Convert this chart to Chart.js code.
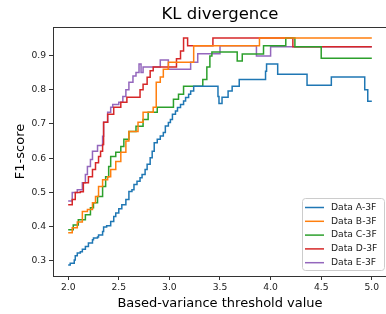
<!DOCTYPE html>
<html>
<head>
<meta charset="utf-8">
<script src="https://cdn.jsdelivr.net/npm/chart.js@4.4.1/dist/chart.umd.min.js"></script>
<style>
  html, body { margin: 0; padding: 0; background: #fff; overflow: hidden; }
  #wrap { width: 390px; height: 314px; }
</style>
</head>
<body>
<div id="wrap"><canvas id="chartCanvas" width="390" height="314"></canvas></div>
<script>
// chart data
const xTicks = [2.0, 2.5, 3.0, 3.5, 4.0, 4.5, 5.0];
const yTicks = [0.3, 0.4, 0.5, 0.6, 0.7, 0.8, 0.9];

const seriesNames = ['Data A-3F', 'Data B-3F', 'Data C-3F', 'Data D-3F', 'Data E-3F'];
const seriesColors = ['#1f77b4', '#ff7f0e', '#2ca02c', '#d62728', '#9467bd'];

const aX = [2.0, 2.02, 2.06, 2.07, 2.09, 2.12, 2.14, 2.17, 2.2, 2.24, 2.25, 2.29, 2.3, 2.34, 2.35, 2.38, 2.42, 2.45, 2.47, 2.5, 2.53, 2.57, 2.6, 2.63, 2.65, 2.68, 2.71, 2.73, 2.76, 2.78, 2.81, 2.83,
            2.85, 2.88, 2.91, 2.94, 2.96, 2.99, 3.01, 3.03, 3.06, 3.08, 3.11, 3.14, 3.16, 3.19, 3.21, 3.24, 3.48, 3.49, 3.52, 3.58, 3.62, 3.69, 3.95, 3.96, 4.07, 4.36, 4.6, 4.93, 4.96, 5.0];
const aY = [0.288, 0.293, 0.303, 0.315, 0.323, 0.327, 0.334, 0.342, 0.352, 0.362, 0.367, 0.37, 0.376, 0.386, 0.399, 0.403, 0.415, 0.43, 0.44, 0.452, 0.464, 0.479, 0.503, 0.508, 0.523, 0.533, 0.543, 0.552, 0.567, 0.582, 0.601, 0.62,
            0.645, 0.655, 0.665, 0.675, 0.694, 0.704, 0.713, 0.728, 0.738, 0.748, 0.757, 0.767, 0.777, 0.787, 0.796, 0.81, 0.78, 0.76, 0.778, 0.796, 0.81, 0.83, 0.854, 0.875, 0.845, 0.813, 0.837, 0.8, 0.766, 0.766];

const bX = [2.0, 2.04, 2.09, 2.14, 2.19, 2.24, 2.27, 2.3, 2.34, 2.39, 2.42, 2.47, 2.52, 2.57, 2.6, 2.69, 2.74, 2.84, 2.87, 2.91, 2.94, 2.99, 3.24, 3.89, 5.0];
const bY = [0.382, 0.397, 0.414, 0.444, 0.45, 0.47, 0.488, 0.517, 0.537, 0.546, 0.567, 0.59, 0.617, 0.65, 0.678, 0.705, 0.734, 0.749, 0.822, 0.837, 0.86, 0.88, 0.928, 0.951, 0.951];

const cX = [2.0, 2.05, 2.1, 2.17, 2.22, 2.25, 2.29, 2.34, 2.37, 2.4, 2.42, 2.47, 2.52, 2.55, 2.6, 2.67, 2.74, 2.79, 2.88, 3.04, 3.09, 3.14, 3.33, 3.37, 3.4, 3.42, 3.67, 3.72, 3.93, 4.15, 4.24, 4.5, 5.0];
const cY = [0.391, 0.405, 0.42, 0.435, 0.455, 0.47, 0.488, 0.517, 0.546, 0.576, 0.605, 0.617, 0.634, 0.655, 0.678, 0.693, 0.713, 0.734, 0.749, 0.772, 0.787, 0.81, 0.83, 0.866, 0.898, 0.91, 0.884, 0.904, 0.928, 0.951, 0.925, 0.892, 0.892];

const dX = [2.0, 2.04, 2.07, 2.12, 2.15, 2.2, 2.24, 2.27, 2.3, 2.32, 2.34, 2.35, 2.39, 2.45, 2.52, 2.58, 2.71, 2.74, 2.78, 2.81, 2.84, 3.07, 3.11, 3.14, 3.18, 3.43, 4.22, 5.0];
const dY = [0.464, 0.479, 0.5, 0.502, 0.528, 0.546, 0.567, 0.587, 0.605, 0.62, 0.64, 0.705, 0.728, 0.749, 0.763, 0.778, 0.8, 0.816, 0.836, 0.855, 0.866, 0.89, 0.913, 0.951, 0.928, 0.951, 0.925, 0.925];

const eX = [2.0, 2.04, 2.09, 2.14, 2.17, 2.19, 2.22, 2.24, 2.29, 2.34, 2.35, 2.39, 2.42, 2.44, 2.5, 2.54, 2.57, 2.6, 2.64, 2.67, 2.7, 2.72, 2.74, 2.91, 2.99, 3.21, 3.28, 3.5, 3.86, 4.0, 5.0];
const eY = [0.475, 0.5, 0.508, 0.528, 0.552, 0.576, 0.596, 0.62, 0.637, 0.664, 0.705, 0.734, 0.749, 0.757, 0.763, 0.78, 0.8, 0.822, 0.84, 0.85, 0.875, 0.85, 0.866, 0.887, 0.86, 0.88, 0.905, 0.928, 0.898, 0.925, 0.925];

const allX = [aX, bX, cX, dX, eX];
const allY = [aY, bY, cY, dY, eY];

function toPoints(xs, ys) {
    return xs.map((x, i) => ({ x: x, y: ys[i] }));
}

const FONT = "'DejaVu Sans', sans-serif";

// title, top spine and the legend box, drawn like matplotlib does
const extras = {
    id: 'extras',
    afterDraw(chart) {
        const ctx = chart.ctx;
        const area = chart.chartArea;
        ctx.save();
        ctx.strokeStyle = '#333';
        ctx.lineWidth = 1;
        ctx.beginPath();
        ctx.moveTo(area.left, area.top + 0.5);
        ctx.lineTo(area.right, area.top + 0.5);
        ctx.moveTo(area.right - 0.5, area.top);
        ctx.lineTo(area.right - 0.5, area.bottom);
        ctx.stroke();

        ctx.fillStyle = '#000';
        ctx.font = '16.5px ' + FONT;
        ctx.textAlign = 'center';
        ctx.textBaseline = 'middle';
        ctx.fillText('KL divergence', (area.left + area.right) / 2, 15);

        // legend
        const bx = 302.5, by = 198.5, bw = 82, bh = 72;
        ctx.fillStyle = 'rgba(255,255,255,0.8)';
        ctx.strokeStyle = '#cccccc';
        ctx.beginPath();
        ctx.roundRect(bx, by, bw, bh, 3);
        ctx.fill();
        ctx.stroke();
        ctx.font = '9.2px ' + FONT;
        ctx.textAlign = 'left';
        seriesNames.forEach((name, i) => {
            const yy = 207.5 + i * 13.8;
            ctx.strokeStyle = seriesColors[i];
            ctx.lineWidth = 1.5;
            ctx.beginPath();
            ctx.moveTo(305, yy);
            ctx.lineTo(324, yy);
            ctx.stroke();
            ctx.fillStyle = '#222';
            ctx.fillText(name, 331, yy);
        });
        ctx.restore();
    }
};

const ctx = document.getElementById('chartCanvas').getContext('2d');

window.myChart = new Chart(ctx, {
    type: 'line',
    data: {
        datasets: seriesNames.map((name, i) => ({
            label: name,
            data: toPoints(allX[i], allY[i]),
            borderColor: seriesColors[i],
            backgroundColor: seriesColors[i],
            borderWidth: 1.5,
            pointRadius: 0,
            stepped: 'before',
            fill: false
        }))
    },
    options: {
        responsive: false,
        animation: false,
        events: [],
        layout: { padding: { top: 27, right: 3, bottom: 0, left: 0 } },
        plugins: {
            legend: { display: false },
            title: { display: false },
            tooltip: { enabled: false }
        },
        scales: {
            x: {
                type: 'linear',
                min: 1.85,
                max: 5.15,
                afterBuildTicks: s => { s.ticks = xTicks.map(v => ({ value: v })); },
                afterFit: s => { s.height = 38; },
                grid: { display: true, drawOnChartArea: false, drawTicks: true, tickLength: 4, color: '#333' },
                border: { display: true, color: '#333', width: 1 },
                ticks: {
                    color: '#222',
                    font: { family: FONT, size: 9.2 },
                    padding: 2,
                    maxRotation: 0,
                    callback: v => v.toFixed(1)
                },
                title: {
                    display: true,
                    text: 'Based-variance threshold value',
                    color: '#000',
                    font: { family: FONT, size: 13 },
                    padding: { top: 0, bottom: 3 }
                }
            },
            y: {
                min: 0.256,
                max: 0.983,
                afterBuildTicks: s => { s.ticks = yTicks.map(v => ({ value: v })); },
                afterFit: s => { s.width = 53; },
                grid: { display: true, drawOnChartArea: false, drawTicks: true, tickLength: 4, color: '#333' },
                border: { display: true, color: '#333', width: 1 },
                ticks: {
                    color: '#222',
                    font: { family: FONT, size: 9.2 },
                    padding: 3,
                    callback: v => v.toFixed(1)
                },
                title: {
                    display: true,
                    text: 'F1-score',
                    color: '#000',
                    font: { family: FONT, size: 13 },
                    padding: { top: 13, bottom: 0 }
                }
            }
        }
    },
    plugins: [extras]
});
</script>
</body>
</html>
